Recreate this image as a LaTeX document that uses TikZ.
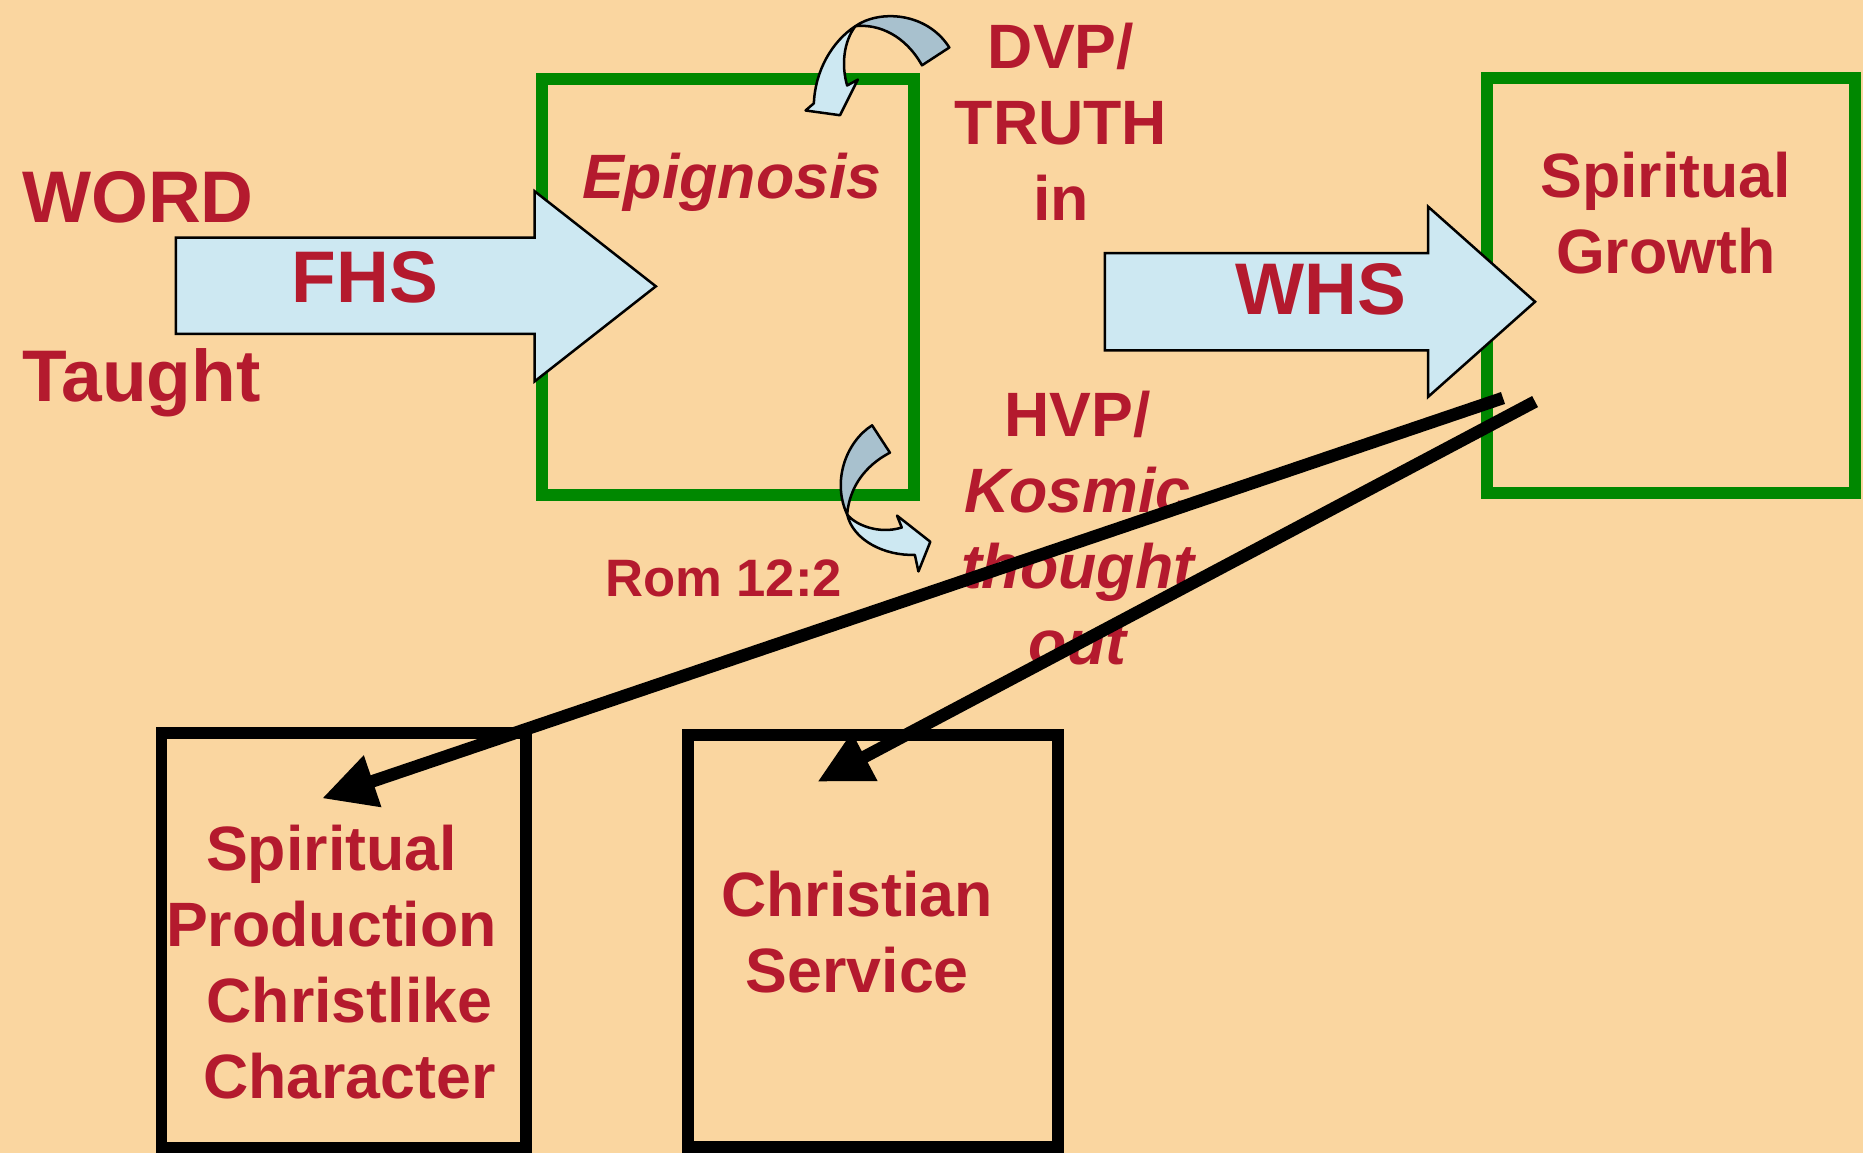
\documentclass[tikz,border=0pt]{standalone}
\usepackage{fontspec}
\setmainfont{Liberation Sans}
\usetikzlibrary{arrows.meta}
\definecolor{peach}{RGB}{250,214,160}
\definecolor{wordred}{RGB}{180,26,46}
\definecolor{boxgreen}{RGB}{0,136,0}
\definecolor{paleblue}{RGB}{205,232,242}
\definecolor{greyblue}{RGB}{168,193,206}

\begin{document}
\begin{tikzpicture}[x=0.01cm, y=-0.01cm,
		bigtxt/.style={text=wordred, inner sep=0pt, font=\bfseries\fontsize{17.5}{21}\selectfont},
		midtxt/.style={text=wordred, inner sep=0pt, align=center, font=\bfseries\fontsize{15}{18.2}\selectfont},
		greenbox/.style={draw=boxgreen, line width=2.85pt},
		blackbox/.style={draw=black, line width=2.85pt},
		fatarrow/.style={draw=black, line width=0.6pt, fill=paleblue},
		bentarrow/.style={draw=black, line width=0.6pt, line join=round},
		pointer/.style={line width=3pt, -{Triangle[length=4.5mm, width=4.3mm]}}]
		\fill[peach] (0,0) rectangle (1568,970.4);
		\useasboundingbox (0,0) rectangle (1568,970.4);
		\node[greenbox, minimum width=3.13cm, minimum height=3.5cm] (epibox) at (612.5,241.5) {};
		\node[greenbox, minimum width=3.09cm, minimum height=3.49cm] (growbox) at (1406.5,240.5) {};
		\node[blackbox, minimum width=3.07cm, minimum height=3.49cm] (prodbox) at (289.5,791.5) {};
		\node[blackbox, minimum width=3.11cm, minimum height=3.46cm] (servbox) at (734.5,792) {};
		
		\draw[fatarrow] (148,200) -- (450,200) -- (450,161) -- (552,241) -- (450,321) -- (450,281) -- (148,281) -- cycle;
		\draw[fatarrow] (930,213) -- (1202,213) -- (1202,174) -- (1292,254) -- (1202,334) -- (1202,295) -- (930,295) -- cycle;
		
		\draw[bentarrow, fill=greyblue] (720,22) .. controls (740,8) and (780,10) .. (799,40) -- (776,55) .. controls (762,30) and (740,20) .. (720,22) -- cycle;
		\draw[bentarrow, fill=paleblue] (720,22) .. controls (700,35) and (686,60) .. (685,87) -- (678,93) -- (707,97) -- (722,67) -- (713,72) .. controls (708,55) and (710,35) .. (720,22) -- cycle;
		\draw[bentarrow, fill=greyblue] (734,358) .. controls (712,372) and (700,405) .. (713,433) .. controls (715,410) and (728,392) .. (749,381) -- cycle;
		\draw[bentarrow, fill=paleblue] (713,433) .. controls (720,442) and (740,450) .. (759,444) -- (755,434) -- (783,456) -- (773,481) -- (770,467) .. controls (745,468) and (718,455) .. (713,433) -- cycle;
		
		\node[bigtxt, anchor=base west] (word) at (18,187) {WORD};
		\node[bigtxt, anchor=base west] (taught) at (18,338) {Taught};
		\node[bigtxt, anchor=base] (fhs) at (307,255) {FHS};
		\node[bigtxt, anchor=base] (whs) at (1112,265) {WHS};
		\node[midtxt, anchor=base] (epignosis) at (616,167) {\itshape Epignosis};
		\node[midtxt, anchor=north] (dvp) at (893,18.5) {DVP/\\TRUTH\\in};
		\node[midtxt, anchor=north] (hvp) at (907,328.5) {HVP/\\{\itshape Kosmic}\\{\itshape thought}\\{\itshape out}};
		\node[midtxt, font=\bfseries\fontsize{12.6}{15}\selectfont, anchor=base] (rom) at (609,502) {Rom 12:2};
		\node[midtxt, anchor=north] (growth) at (1402,127.5) {Spiritual\\Growth};
		\node[midtxt, anchor=north] (production) at (279,693.5) {Spiritual\\Production\\\hspace*{0.3cm}Christlike\\\hspace*{0.3cm}Character};
		\node[midtxt, anchor=north] (service) at (721.5,732.5) {Christian\\Service};
		
		\coordinate (growtail1) at (1265,335);
		\coordinate (growtail2) at (1292,338);
		\coordinate (prodtip) at (271,672);
		\coordinate (servtip) at (688,658);
		\draw[pointer] (growtail1) -- (prodtip);
		\draw[pointer] (growtail2) -- (servtip);
	\end{tikzpicture}
\end{document}
